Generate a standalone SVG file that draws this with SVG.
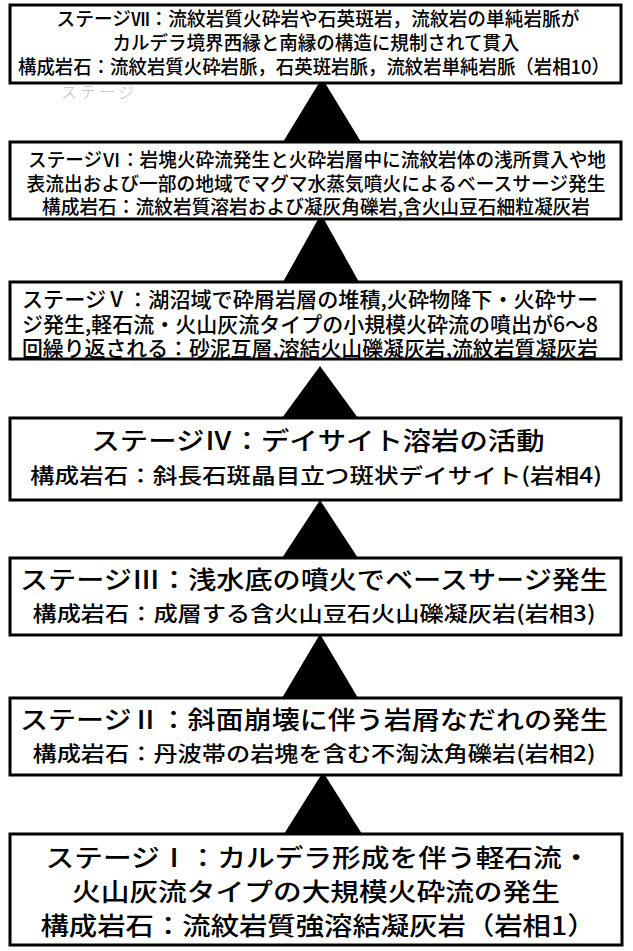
<svg xmlns="http://www.w3.org/2000/svg" width="633" height="951" viewBox="0 0 633 951">
<style>
.box{fill:#fff;stroke:#000;stroke-width:3}
.tri{fill:#000}
text{font-family:"Noto Sans CJK JP","Noto Sans",sans-serif;font-weight:500;fill:#000}
.s{font-size:19px}
.m{font-size:21px}
.l{font-size:25px}
.c{text-anchor:middle}
.ghost{font-size:16px;fill:#bdbdbd;font-weight:300}
</style>
<rect width="633" height="951" fill="#fff"/>
<g id="connectors">
<polygon class="tri" points="322,78 283,142 361,142"/>
<polygon class="tri" points="321,214 283,282 359,282"/>
<polygon class="tri" points="320,366 282,418 358,418"/>
<polygon class="tri" points="320,500 282,558 358,558"/>
<polygon class="tri" points="320,634 282,698 358,698"/>
<polygon class="tri" points="323,772 284,834 362,834"/>
</g>
<g id="stage7">
<rect class="box" x="10" y="5" width="611" height="78"/>
<text class="s c" x="318" y="26" textLength="523" lengthAdjust="spacingAndGlyphs">ステージⅦ：流紋岩質火砕岩や石英斑岩，流紋岩の単純岩脈が</text>
<text class="s c" x="316" y="50" textLength="407" lengthAdjust="spacingAndGlyphs">カルデラ境界西縁と南縁の構造に規制されて貫入</text>
<text class="s c" x="314" y="74" textLength="592" lengthAdjust="spacingAndGlyphs">構成岩石：流紋岩質火砕岩脈，石英斑岩脈，流紋岩単純岩脈（岩相10）</text>
<text class="ghost" x="61" y="98" textLength="73" lengthAdjust="spacing">ステージ</text>
</g>
<g id="stage6">
<rect class="box" x="10" y="142" width="611" height="77"/>
<text class="s c" x="317" y="167" textLength="578" lengthAdjust="spacingAndGlyphs">ステージⅥ：岩塊火砕流発生と火砕岩層中に流紋岩体の浅所貫入や地</text>
<text class="s c" x="316" y="191" textLength="579" lengthAdjust="spacingAndGlyphs">表流出および一部の地域でマグマ水蒸気噴火によるベースサージ発生</text>
<text class="s c" x="316" y="214" textLength="548" lengthAdjust="spacingAndGlyphs">構成岩石：流紋岩質溶岩および凝灰角礫岩,含火山豆石細粒凝灰岩</text>
</g>
<g id="stage5">
<rect class="box" x="10" y="282" width="611" height="77"/>
<text class="m" x="22" y="307" textLength="576" lengthAdjust="spacingAndGlyphs">ステージⅤ：湖沼域で砕屑岩層の堆積,火砕物降下・火砕サー</text>
<text class="m" x="22" y="332" textLength="576" lengthAdjust="spacingAndGlyphs">ジ発生,軽石流・火山灰流タイプの小規模火砕流の噴出が6～8</text>
<text class="m" x="22" y="356" textLength="576" lengthAdjust="spacingAndGlyphs">回繰り返される：砂泥互層,溶結火山礫凝灰岩,流紋岩質凝灰岩</text>
</g>
<g id="stage4">
<rect class="box" x="10" y="418" width="611" height="82"/>
<text class="l c" x="318" y="450" textLength="453" lengthAdjust="spacingAndGlyphs">ステージⅣ：デイサイト溶岩の活動</text>
<text class="m c" x="316" y="483" textLength="572" lengthAdjust="spacingAndGlyphs">構成岩石：斜長石斑晶目立つ斑状デイサイト(岩相4)</text>
</g>
<g id="stage3">
<rect class="box" x="10" y="558" width="611" height="77"/>
<text class="l c" x="314" y="589" textLength="588" lengthAdjust="spacingAndGlyphs">ステージⅢ：浅水底の噴火でベースサージ発生</text>
<text class="m c" x="314" y="621" textLength="563" lengthAdjust="spacingAndGlyphs">構成岩石：成層する含火山豆石火山礫凝灰岩(岩相3)</text>
</g>
<g id="stage2">
<rect class="box" x="10" y="698" width="611" height="77"/>
<text class="l c" x="314" y="729" textLength="588" lengthAdjust="spacingAndGlyphs">ステージⅡ：斜面崩壊に伴う岩屑なだれの発生</text>
<text class="m c" x="314" y="761" textLength="563" lengthAdjust="spacingAndGlyphs">構成岩石：丹波帯の岩塊を含む不淘汰角礫岩(岩相2)</text>
</g>
<g id="stage1">
<rect class="box" x="10" y="834" width="612" height="111"/>
<text class="l c" x="318" y="867" textLength="545" lengthAdjust="spacingAndGlyphs">ステージⅠ：カルデラ形成を伴う軽石流・</text>
<text class="l c" x="316" y="901" textLength="488" lengthAdjust="spacingAndGlyphs">火山灰流タイプの大規模火砕流の発生</text>
<text class="l c" x="318" y="935" textLength="555" lengthAdjust="spacingAndGlyphs">構成岩石：流紋岩質強溶結凝灰岩（岩相1）</text>
</g>
</svg>
